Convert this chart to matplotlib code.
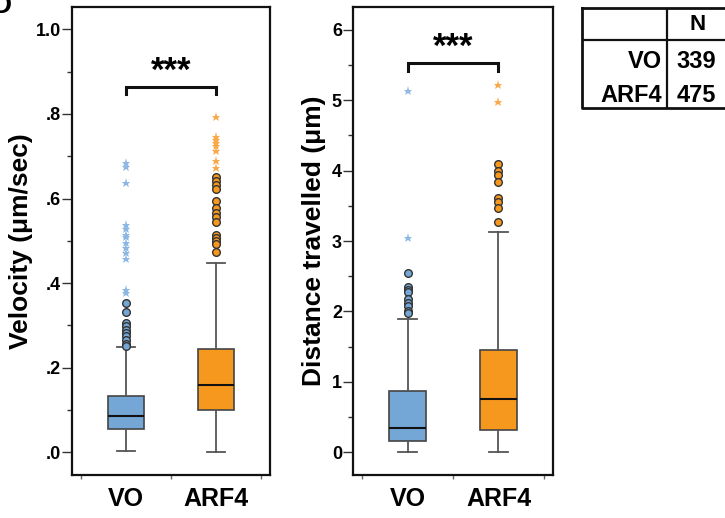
"""
Velocity and distance travelled, VO vs ARF4 (box plots with outliers)
"""
import numpy as np
import matplotlib
matplotlib.use("Agg")
import matplotlib.pyplot as plt
from matplotlib.ticker import MultipleLocator

plt.rcParams['font.family'] = ['Liberation Sans', 'DejaVu Sans']
plt.rcParams['font.weight'] = 'bold'

# data
groups = ["VO", "ARF4"]
counts = [339, 475]
box_colors = ["#75A7D6", "#F7981E"]
star_colors = ["#8DB8E3", "#F9A94A"]

# velocity (um/sec): q1, median, q3, whisker low, whisker high
vel_q1 = [0.055, 0.100]
vel_med = [0.086, 0.158]
vel_q3 = [0.133, 0.243]
vel_lo = [0.003, 0.001]
vel_hi = [0.248, 0.447]
vel_circles = [
    [0.353, 0.332, 0.305, 0.298, 0.290, 0.283, 0.275, 0.265, 0.257, 0.251],
    [0.650, 0.642, 0.632, 0.622, 0.595, 0.577, 0.565, 0.556, 0.544,
     0.514, 0.506, 0.500, 0.492, 0.474],
]
vel_stars = [
    [0.685, 0.675, 0.636, 0.537, 0.529, 0.514, 0.510, 0.494, 0.482,
     0.470, 0.458, 0.383, 0.376],
    [0.792, 0.745, 0.738, 0.732, 0.724, 0.713, 0.689, 0.671],
]

# distance travelled (um)
dist_q1 = [0.152, 0.313]
dist_med = [0.341, 0.758]
dist_q3 = [0.867, 1.455]
dist_lo = [0.0, 0.0]
dist_hi = [1.887, 3.13]
dist_circles = [
    [2.54, 2.35, 2.31, 2.28, 2.17, 2.12, 2.07, 2.01, 1.98],
    [4.10, 3.99, 3.94, 3.84, 3.61, 3.56, 3.47, 3.27],
]
dist_stars = [
    [5.13, 3.04],
    [5.22, 4.97],
]


def draw_panel(ax, q1, med, q3, lo, hi, circles, stars):
    stats = []
    for i in range(2):
        stats.append(dict(q1=q1[i], med=med[i], q3=q3[i], whislo=lo[i],
                          whishi=hi[i], fliers=[]))
    bp = ax.bxp(stats, positions=[0, 1], widths=0.4, patch_artist=True,
                showfliers=False,
                boxprops=dict(edgecolor="#444444", linewidth=1.2),
                medianprops=dict(color="#111111", linewidth=1.5),
                whiskerprops=dict(color="#555555", linewidth=1.3),
                capprops=dict(color="#555555", linewidth=1.3),
                capwidths=0.21)
    for patch, c in zip(bp['boxes'], box_colors):
        patch.set_facecolor(c)
    for i in range(2):
        ax.plot([i] * len(circles[i]), circles[i], 'o', ms=5.5,
                mfc=box_colors[i], mec="#333333", mew=1.0, zorder=3)
        ax.plot([i] * len(stars[i]), stars[i], '*', ms=6.5,
                color=star_colors[i], mew=0, zorder=3)
    ax.set_xlim(-0.6, 1.6)
    ax.set_xticks([-0.5, 0.5, 1.5])
    ax.set_xticklabels([])
    ax.set_xticks([0, 1], minor=True)
    ax.set_xticklabels(groups, minor=True, fontsize=18, fontweight='bold')
    ax.tick_params(axis='x', which='major', direction='out', length=3,
                   color="#666666", width=1)
    ax.tick_params(axis='x', which='minor', length=0, pad=9)
    ax.tick_params(axis='y', which='major', direction='out', length=7,
                   color="#333333", width=1, labelsize=13, pad=1)
    ax.tick_params(axis='y', which='minor', direction='out', length=3.5,
                   color="#333333", width=1)
    for s in ax.spines.values():
        s.set_linewidth(1.6)
        s.set_color("#111111")


fig = plt.figure(figsize=(7.25, 5.18), dpi=100)

# left: velocity
ax1 = fig.add_axes([72 / 725, 43 / 518, 198 / 725, 468 / 518])
draw_panel(ax1, vel_q1, vel_med, vel_q3, vel_lo, vel_hi, vel_circles, vel_stars)
ax1.set_ylim(-0.054, 1.053)
ax1.set_yticks([0, 0.2, 0.4, 0.6, 0.8, 1.0])
ax1.set_yticklabels([".0", ".2", ".4", ".6", ".8", "1.0"], fontweight='bold')
ax1.yaxis.set_minor_locator(MultipleLocator(0.1))
ax1.set_ylabel("Velocity (\u03bcm/sec)", fontsize=19, fontweight='bold', labelpad=2)
ax1.plot([0, 0, 1, 1], [0.847, 0.863, 0.863, 0.847], color="#111111", lw=2.2,
         solid_joinstyle='miter')
ax1.text(0.5, 0.862, "***", ha='center', va='bottom', fontsize=25,
         fontweight='bold')

# right: distance travelled
ax2 = fig.add_axes([353 / 725, 43 / 518, 200 / 725, 468 / 518])
draw_panel(ax2, dist_q1, dist_med, dist_q3, dist_lo, dist_hi, dist_circles,
           dist_stars)
ax2.set_ylim(-0.327, 6.327)
ax2.set_yticks(range(0, 7))
ax2.yaxis.set_minor_locator(MultipleLocator(0.5))
ax2.set_ylabel("Distance travelled (\u03bcm)", fontsize=19, fontweight='bold',
               labelpad=4)
ax2.plot([0, 0, 1, 1], [5.42, 5.535, 5.535, 5.42], color="#111111", lw=2.2,
         solid_joinstyle='miter')
ax2.text(0.5, 5.52, "***", ha='center', va='bottom', fontsize=25,
         fontweight='bold')

# N table in top-right corner
axt = fig.add_axes([582 / 725, 410 / 518, 150 / 725, 100 / 518])
axt.set_xlim(582, 732)
axt.set_ylim(108, 8)
axt.axis('off')
axt.plot([582, 732, 732, 582, 582], [8, 8, 108, 108, 8], color="#111111",
         lw=2, clip_on=False)
axt.plot([667, 667], [8, 108], color="#111111", lw=1.6)
axt.plot([582, 732], [40, 40], color="#111111", lw=1.6)
axt.text(698, 25, "N", ha='center', va='center', fontsize=16, fontweight='bold')
axt.text(662, 62, groups[0], ha='right', va='center', fontsize=17, fontweight='bold')
axt.text(662, 95, groups[1], ha='right', va='center', fontsize=17, fontweight='bold')
axt.text(696, 62, str(counts[0]), ha='center', va='center', fontsize=17,
         fontweight='bold')
axt.text(696, 95, str(counts[1]), ha='center', va='center', fontsize=17,
         fontweight='bold')

# clipped panel letter
fig.text(11 / 725, 1 - 13 / 518, "D", ha='right', va='baseline', fontsize=20,
         fontweight='bold')

fig.savefig("out.png", dpi=100)
